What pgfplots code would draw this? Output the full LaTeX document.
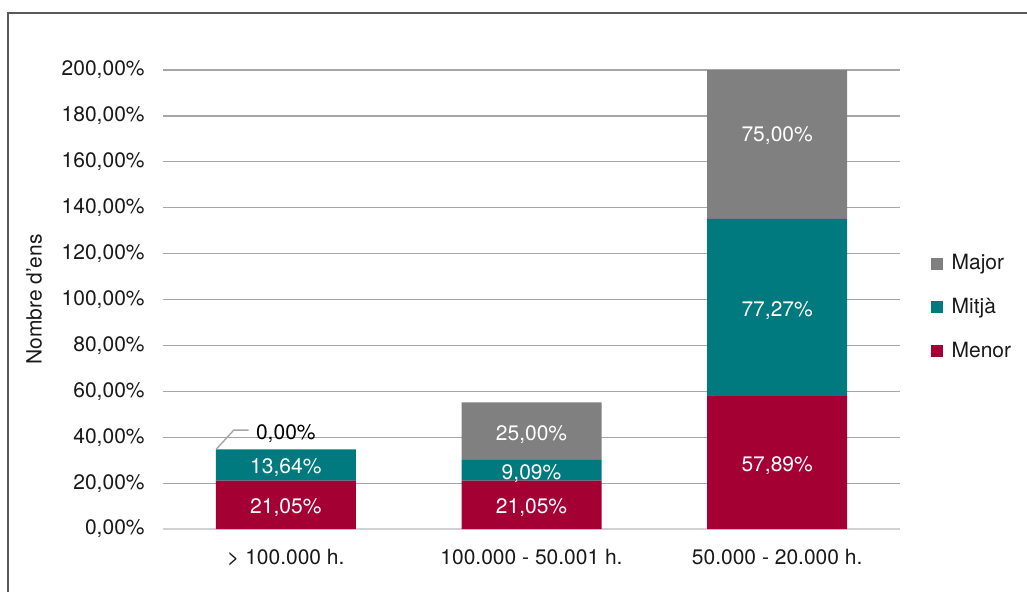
\documentclass[border=0pt]{standalone}
\usepackage{fontspec}
\setmainfont{TeX Gyre Heros}
\usepackage{pgfplots}
\pgfplotsset{compat=1.18}
\definecolor{cmajor}{HTML}{808080}
\definecolor{cmitja}{HTML}{007A7E}
\definecolor{cmenor}{HTML}{A50034}
\definecolor{gridc}{HTML}{A6A6A6}
\begin{document}
\fontsize{10.5}{12}\selectfont
\begin{tikzpicture}[x=1pt,y=1pt]
\useasboundingbox (-81.5,-31) rectangle (432,264.5);
\draw[color=black!65, line width=1pt] (-77.5,-60) rectangle (480,258);
\begin{axis}[at={(0,0)}, anchor=south west, scale only axis,
  width=368.5pt, height=229.5pt,
  ybar stacked, bar width=70pt,
  xmin=-0.5, xmax=2.5, ymin=0, ymax=200,
  xtick={0,1,2},
  xticklabels={{> 100.000 h.},{100.000 - 50.001 h.},{50.000 - 20.000 h.}},
  ytick={0,20,...,200},
  yticklabels={{0,00\%},{20,00\%},{40,00\%},{60,00\%},{80,00\%},{100,00\%},{120,00\%},{140,00\%},{160,00\%},{180,00\%},{200,00\%}},
  ymajorgrids, grid style={gridc, line width=0.6pt},
  axis x line*=bottom, axis y line*=left,
  x axis line style={black!18, line width=0.8pt},
  y axis line style={draw=none},
  major tick length=0pt,
  xtick style={draw=none}, ytick style={draw=none},
  yticklabel style={anchor=east, xshift=-5.5pt, font=\fontsize{10.5}{12}\selectfont, text=black!90},
  xticklabel style={anchor=north, yshift=-6.5pt, font=\fontsize{10.5}{12}\selectfont, text=black!90},
  every axis y label/.style={at={(axis description cs:-0.175,0.5)}, anchor=center, rotate=90, font=\fontsize{10.5}{12}\selectfont, text=black!90},
  ylabel={Nombre d’ens},
  legend style={at={(rel axis cs:1.041,0.483)}, anchor=west, draw=none, fill=none,
    font=\fontsize{10.5}{12}\selectfont, row sep=8.6pt, inner sep=0pt, text=black!90,
    nodes={inner xsep=4.5pt}},
  legend cell align=left,
  reverse legend,
  legend image code/.code={\fill[#1] (0pt,-3pt) rectangle (6pt,3pt);},
]
\addplot[fill=cmenor, draw=none] coordinates {(0,21.05) (1,21.05) (2,57.89)};
\addplot[fill=cmitja, draw=none] coordinates {(0,13.64) (1,9.09) (2,77.27)};
\addplot[fill=cmajor, draw=none] coordinates {(0,0) (1,25) (2,75)};
\legend{Menor, Mitjà, Major}
\coordinate (l1) at (axis cs:0,10.525);
\coordinate (l2) at (axis cs:0,27.87);
\coordinate (l3) at (axis cs:1,10.525);
\coordinate (l4) at (axis cs:1,25.595);
\coordinate (l5) at (axis cs:1,42.64);
\coordinate (l6) at (axis cs:2,28.945);
\coordinate (l7) at (axis cs:2,96.525);
\coordinate (l8) at (axis cs:2,172.66);
\coordinate (la) at (axis cs:-0.282,34.9);
\coordinate (lb) at (axis cs:-0.212,43.1);
\coordinate (lc) at (axis cs:-0.151,43.1);
\coordinate (l0) at (axis cs:0,42.6);
\end{axis}
\begin{scope}[every node/.style={text=white, yshift=-1.5pt}]
\node at (l1) {21,05\%};
\node at (l2) {13,64\%};
\node at (l3) {21,05\%};
\node at (l4) {9,09\%};
\node at (l5) {25,00\%};
\node at (l6) {57,89\%};
\node at (l7) {77,27\%};
\node at (l8) {75,00\%};
\end{scope}
\draw[gridc, line width=0.7pt] (la) -- (lb) -- (lc);
\node[text=black, yshift=-1pt] at (l0) {0,00\%};
\end{tikzpicture}
\end{document}
